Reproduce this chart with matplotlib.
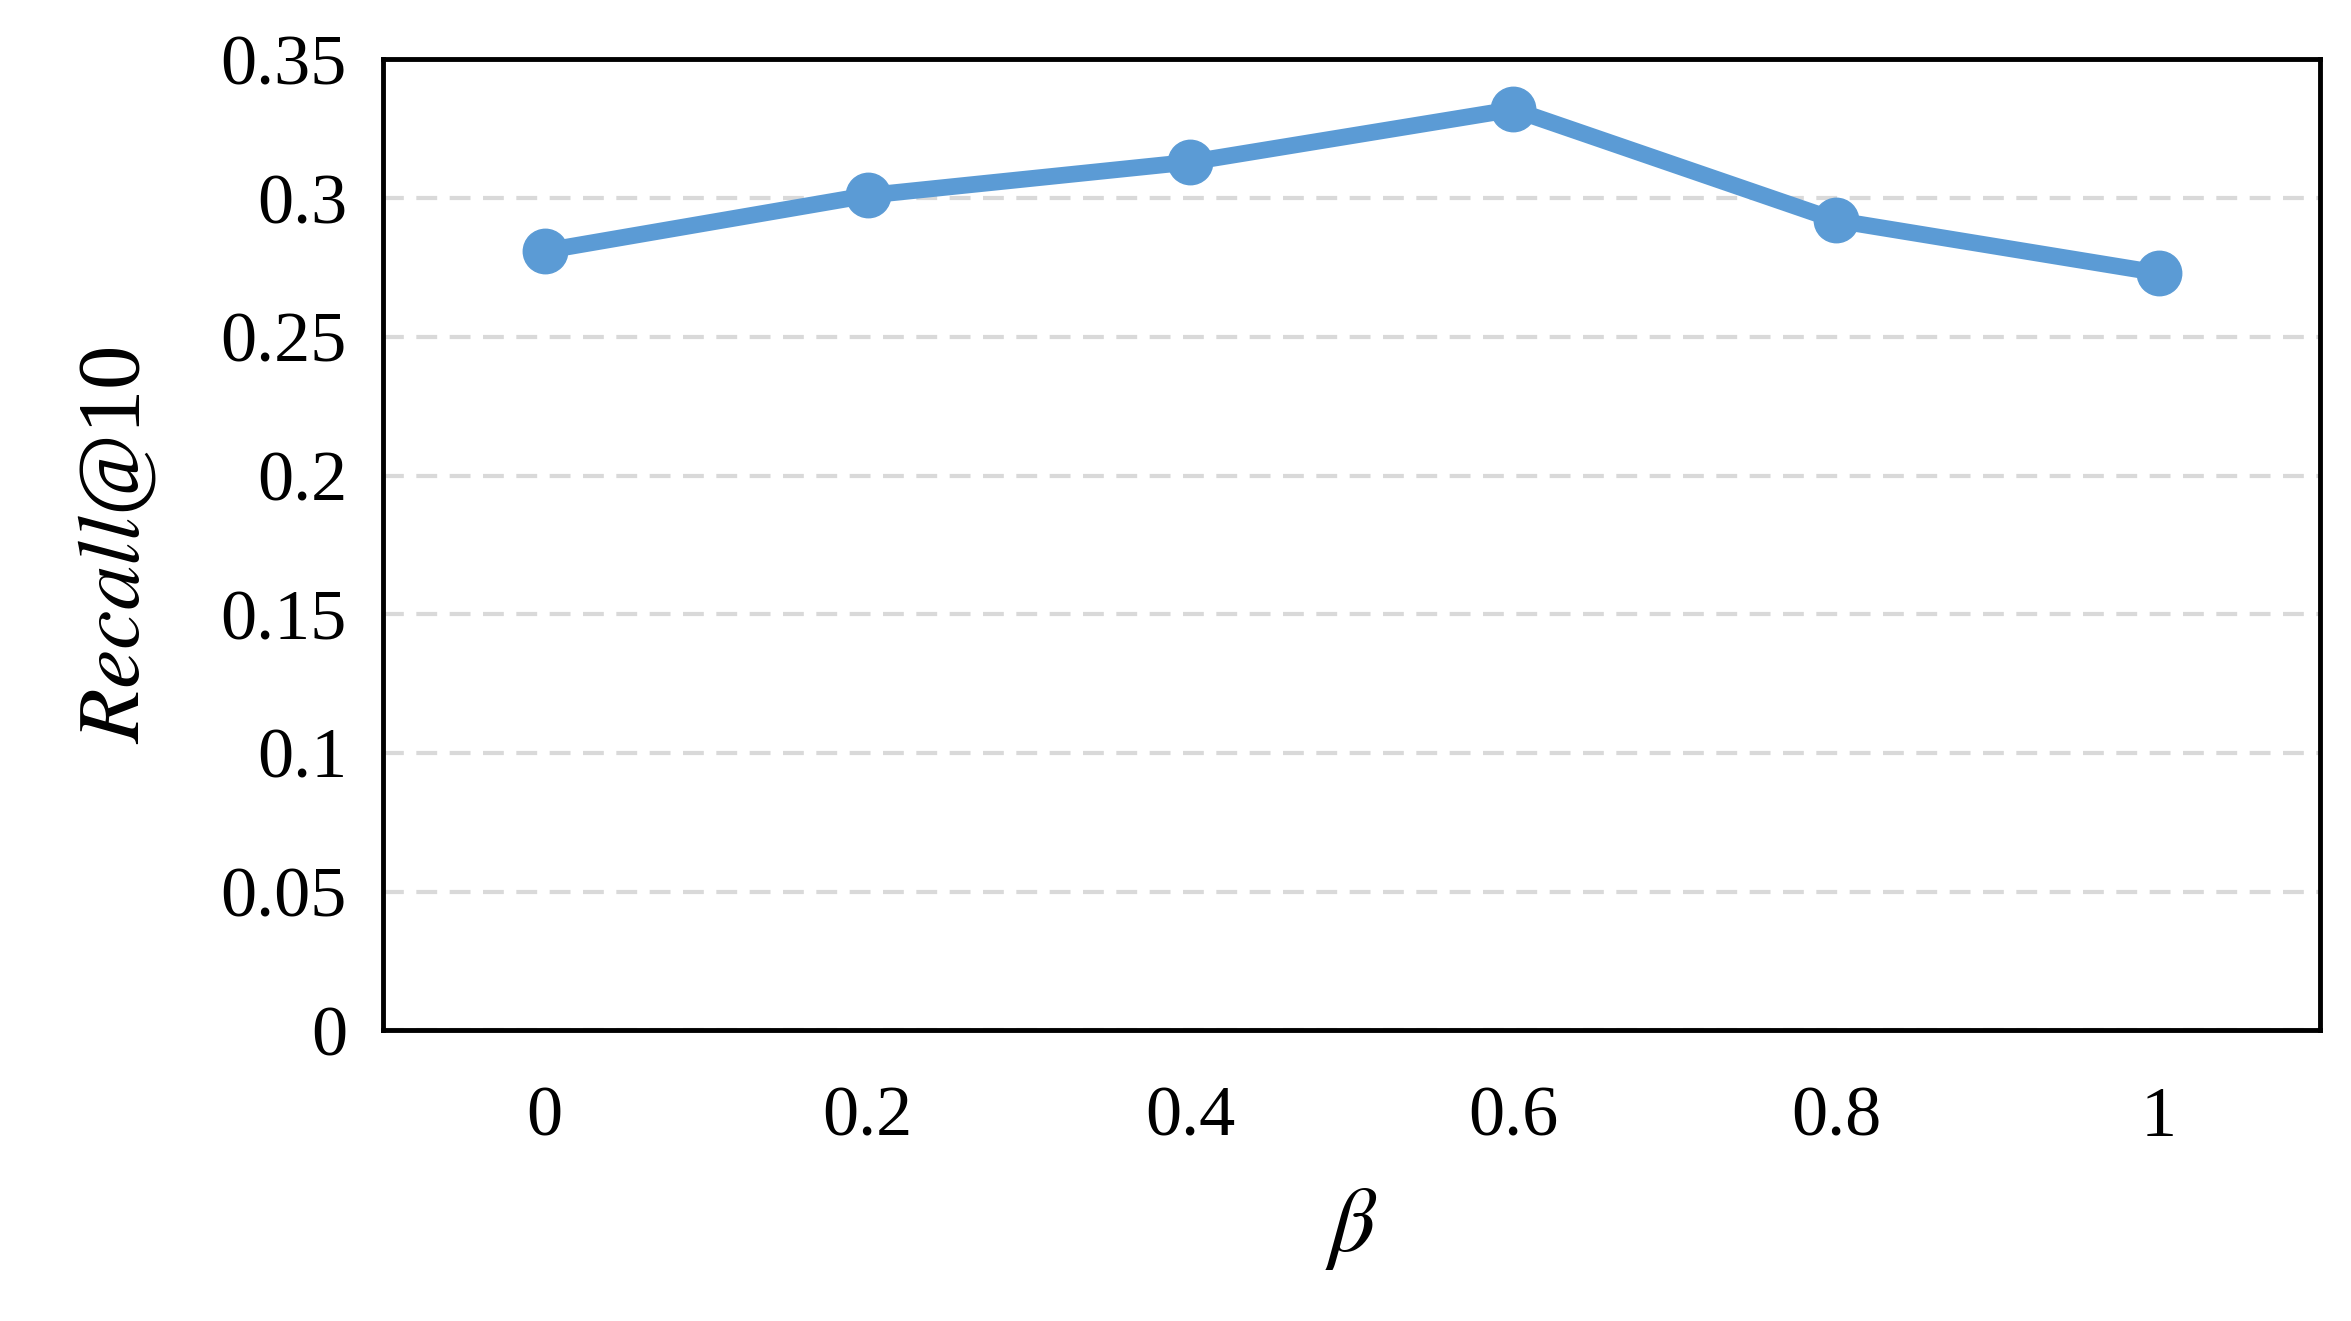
import matplotlib
matplotlib.use("Agg")
import matplotlib.pyplot as plt

categories = ["0", "0.2", "0.4", "0.6", "0.8", "1"]
recall = [0.281, 0.301, 0.313, 0.332, 0.292, 0.273]
yticks = [0, 0.05, 0.1, 0.15, 0.2, 0.25, 0.3, 0.35]
ytick_labels = ["0", "0.05", "0.1", "0.15", "0.2", "0.25", "0.3", "0.35"]

plt.rcParams['font.family'] = ['Liberation Serif', 'DejaVu Serif']
plt.rcParams['mathtext.fontset'] = 'stix'

fig = plt.figure(figsize=(23.51, 13.21), dpi=100)
ax = fig.add_axes([0.163, 0.220, 0.824, 0.735])
x = list(range(len(categories)))
ax.plot(x, recall, color='#5b9bd5', linewidth=12, marker='o', markersize=32, zorder=3)
ax.set_xlim(-0.5, len(categories) - 0.5)
ax.set_ylim(0, 0.35)
ax.set_xticks(x)
ax.set_xticklabels(categories)
ax.set_yticks(yticks)
ax.set_yticklabels(ytick_labels)
ax.tick_params(length=0, labelsize=52, pad=26)
ax.tick_params(axis='x', pad=40)
ax.yaxis.grid(True, color='#d9d9d9', linestyle=(0, (5, 3)), linewidth=3)
ax.set_axisbelow(True)
for s in ax.spines.values():
    s.set_linewidth(3.5)
ax.set_ylabel(r"$\mathit{Recall}$@10", fontsize=64, labelpad=45)
ax.set_xlabel(r"$\beta$", fontsize=66, labelpad=25)
fig.savefig("out.png", dpi=100)
